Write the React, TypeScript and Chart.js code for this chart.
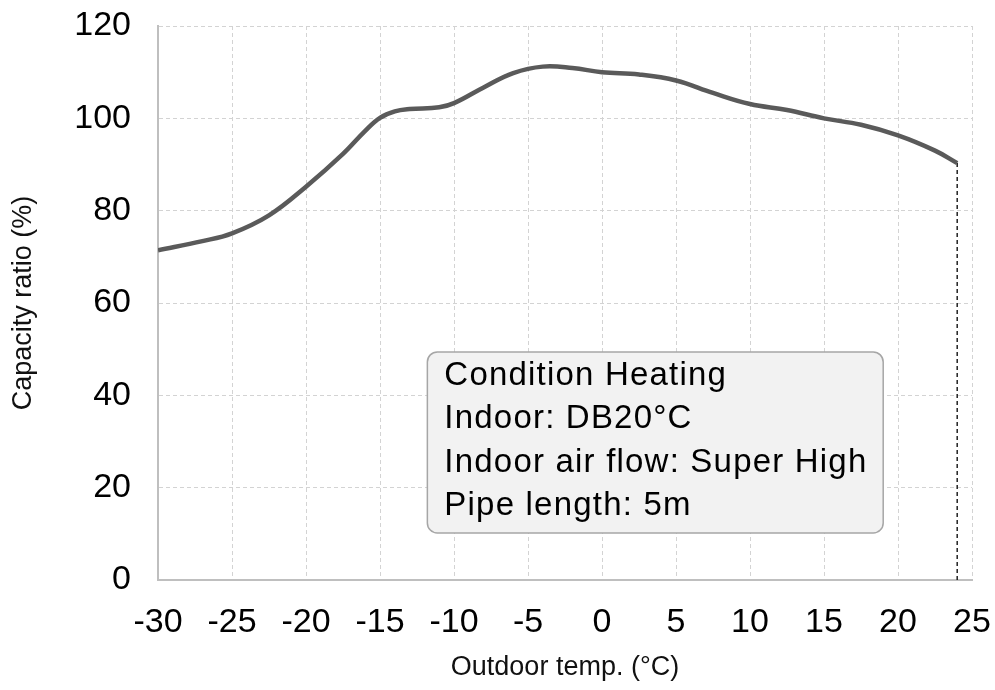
import React, { useEffect, useRef } from "react";
import { Chart, registerables } from "chart.js";

Chart.register(...registerables);

const temps = [-30, -27, -25, -22.5, -20, -17.5, -16, -15, -14, -13, -11, -10, -8, -6, -4, -2, 0, 2.5, 5, 7.5, 10, 12.5, 15, 17.5, 20, 22.5, 24];
const capacity = [71.4, 73.4, 75.1, 79, 85.2, 92.3, 97.3, 100.1, 101.5, 102, 102.4, 103.3, 106.7, 109.8, 111.2, 110.9, 110, 109.5, 108.2, 105.5, 103.1, 101.8, 100, 98.6, 96.3, 93, 90.3];
const markerTemp = 24;
const markerLine = [0, 90.3];
const noteLines = ["Condition Heating", "Indoor: DB20°C", "Indoor air flow: Super High", "Pipe length: 5m"];
// box corners in data units (x: °C, y: %)
const noteBox = { x1: -11.8, x2: 19, y1: 49.4, y2: 10.2 };

const FONT = "'Liberation Sans', Arial, Helvetica, sans-serif";

const notePlugin = {
  id: "noteBox",
  afterDatasetsDraw(chart: any) {
    const { ctx, scales } = chart;
    const x = scales.x, y = scales.y;
    const left = x.getPixelForValue(noteBox.x1);
    const right = x.getPixelForValue(noteBox.x2);
    const top = y.getPixelForValue(noteBox.y1);
    const bottom = y.getPixelForValue(noteBox.y2);
    ctx.save();
    ctx.beginPath();
    ctx.roundRect(left, top, right - left, bottom - top, 10);
    ctx.fillStyle = "#f2f2f2";
    ctx.fill();
    ctx.lineWidth = 1.5;
    ctx.strokeStyle = "#a6a6a6";
    ctx.stroke();
    ctx.fillStyle = "#000";
    ctx.font = `33px ${FONT}`;
    (ctx as any).letterSpacing = "1.2px";
    ctx.textBaseline = "middle";
    ctx.textAlign = "left";
    noteLines.forEach((t, i) => {
      ctx.fillText(t, left + 17, top + 24 + i * 43.3);
    });
    ctx.restore();
  },
};

export default function App() {
  const ref = useRef<HTMLCanvasElement>(null);
  useEffect(() => {
    const chart = new Chart(ref.current!, {
      type: "line",
      data: {
        datasets: [
          {
            data: temps.map((t, i) => ({ x: t, y: capacity[i] })),
            borderColor: "#5a5a5a",
            borderWidth: 4.5,
            pointRadius: 0,
            tension: 0.4,
            fill: false,
          },
          {
            data: markerLine.map((v) => ({ x: markerTemp, y: v })),
            borderColor: "#222",
            borderWidth: 1.5,
            borderDash: [4, 3],
            pointRadius: 0,
            fill: false,
          },
        ],
      },
      options: {
        animation: false,
        responsive: false,
        devicePixelRatio: 1,
        layout: { padding: { left: 0, top: 26, right: 23, bottom: 0 } },
        plugins: { legend: { display: false }, tooltip: { enabled: false } },
        scales: {
          x: {
            type: "linear",
            min: -30,
            max: 25,
            afterFit: (s: any) => { s.height = 110; s.paddingLeft = 0; s.paddingRight = 0; },
            ticks: { stepSize: 5, color: "#000", font: { family: FONT, size: 34 }, padding: 22, maxRotation: 0 },
            grid: { color: "#d3d3d3", lineWidth: 1, drawTicks: false },
            border: { display: true, color: "#bfbfbf", width: 2, dash: [4, 3] },
            title: { display: true, text: "Outdoor temp. (°C)", color: "#111", font: { family: FONT, size: 27 }, padding: { top: 0, bottom: 6 } },
          },
          y: {
            min: 0,
            max: 120,
            afterFit: (s: any) => { s.width = 158; s.paddingTop = 0; s.paddingBottom = 0; },
            ticks: { stepSize: 20, color: "#000", font: { family: FONT, size: 34 }, padding: 27 },
            grid: { color: "#d3d3d3", lineWidth: 1, drawTicks: false },
            border: { display: true, color: "#bfbfbf", width: 2, dash: [4, 3] },
            title: { display: true, text: "Capacity ratio (%)", color: "#111", font: { family: FONT, size: 27 }, padding: { top: 7, bottom: 0 } },
          },
        },
      },
      plugins: [notePlugin],
    } as any);
    return () => chart.destroy();
  }, []);
  return (
    <div style={{ position: "absolute", left: 0, top: 0, width: 995, height: 690, background: "#fff" }}>
      <canvas ref={ref} width={995} height={690} />
    </div>
  );
}
